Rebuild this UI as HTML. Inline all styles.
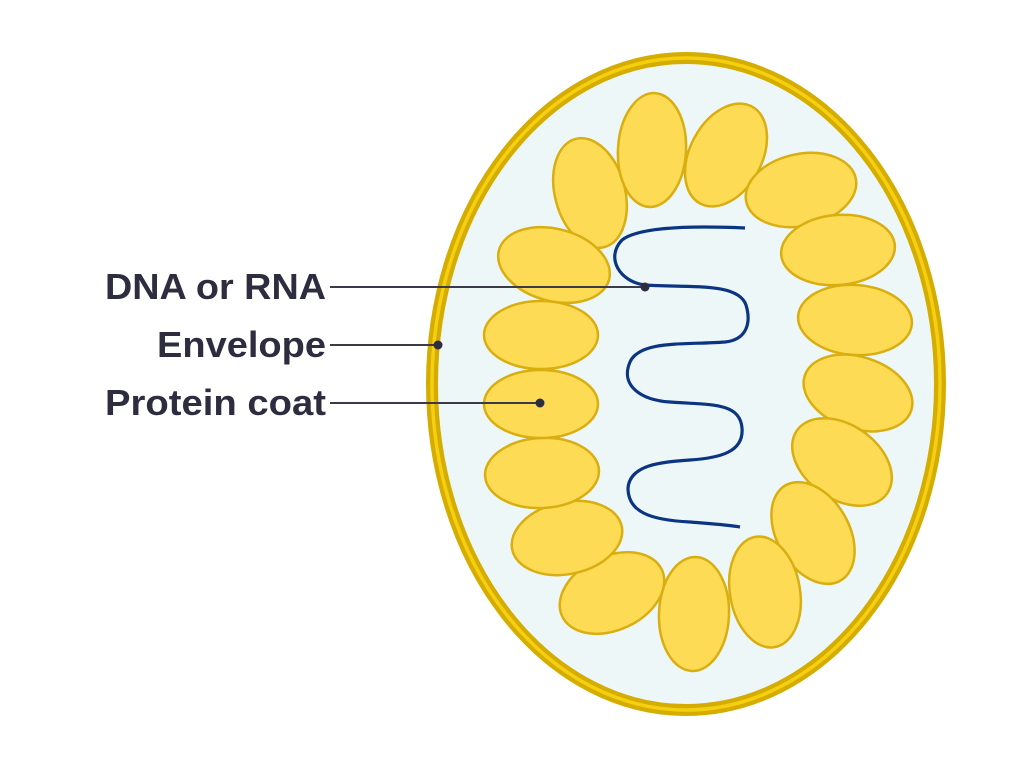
<!DOCTYPE html>
<html><head><meta charset="utf-8"><style>html,body{margin:0;padding:0;background:#fff}svg{display:block}</style></head>
<body>
<svg width="1024" height="768" viewBox="0 0 1024 768" xmlns="http://www.w3.org/2000/svg">
<ellipse cx="686" cy="384" rx="254" ry="326" fill="#eef7f7" stroke="#d4ad00" stroke-width="12"/>
<ellipse cx="686" cy="384" rx="254" ry="326" fill="none" stroke="#f6cf10" stroke-width="3.5"/>
<g fill="#fddb55" stroke="#d8ae10" stroke-width="2.5">
<ellipse cx="590" cy="193" rx="35" ry="56" transform="rotate(-15 590 193)"/>
<ellipse cx="652" cy="150" rx="34" ry="57" transform="rotate(3 652 150)"/>
<ellipse cx="726" cy="155" rx="36" ry="55" transform="rotate(28 726 155)"/>
<ellipse cx="801" cy="190" rx="56" ry="36" transform="rotate(-12 801 190)"/>
<ellipse cx="838" cy="250" rx="57" ry="35" transform="rotate(-5 838 250)"/>
<ellipse cx="855" cy="320" rx="57" ry="35" transform="rotate(4 855 320)"/>
<ellipse cx="858" cy="393" rx="56" ry="36" transform="rotate(18 858 393)"/>
<ellipse cx="842" cy="462" rx="55" ry="37" transform="rotate(35 842 462)"/>
<ellipse cx="813" cy="533" rx="36" ry="55" transform="rotate(-30 813 533)"/>
<ellipse cx="765" cy="592" rx="35" ry="56" transform="rotate(-10 765 592)"/>
<ellipse cx="694" cy="614" rx="35" ry="57" transform="rotate(2 694 614)"/>
<ellipse cx="612" cy="593" rx="55" ry="37" transform="rotate(-25 612 593)"/>
<ellipse cx="567" cy="538" rx="56" ry="36" transform="rotate(-12 567 538)"/>
<ellipse cx="542" cy="473" rx="57" ry="35" transform="rotate(-3 542 473)"/>
<ellipse cx="541" cy="404" rx="57" ry="34"/>
<ellipse cx="541" cy="335" rx="57" ry="34"/>
<ellipse cx="554" cy="265" rx="57" ry="36" transform="rotate(15 554 265)"/>
</g>
<path d="M745 228 C700 226 640 226 622 240 C605 258 620 282 645 285 C690 288 738 282 746 305 C752 325 745 340 725 342 C685 345 640 340 630 362 C620 385 640 400 670 402 C710 405 740 402 742 428 C744 452 720 458 690 460 C660 462 630 465 628 488 C628 512 650 520 690 522 C715 524 730 525 740 527" fill="none" stroke="#0b3482" stroke-width="3.2"/>
<g stroke="#3a3a4a" stroke-width="2">
<line x1="330" y1="287" x2="645" y2="287"/>
<line x1="330" y1="345" x2="438" y2="345"/>
<line x1="330" y1="403" x2="540" y2="403"/>
</g>
<g fill="#2e2d3f"><circle cx="645" cy="287" r="4.5"/><circle cx="438" cy="345" r="4.5"/><circle cx="540" cy="403" r="4.5"/></g>
<g font-family="Liberation Sans, sans-serif" font-weight="bold" font-size="36" fill="#2e2d3f">
<text x="105" y="299" textLength="221" lengthAdjust="spacingAndGlyphs">DNA or RNA</text>
<text x="157" y="357" textLength="169" lengthAdjust="spacingAndGlyphs">Envelope</text>
<text x="105" y="415" textLength="221" lengthAdjust="spacingAndGlyphs">Protein coat</text>
</g>
</svg>
</body></html>
